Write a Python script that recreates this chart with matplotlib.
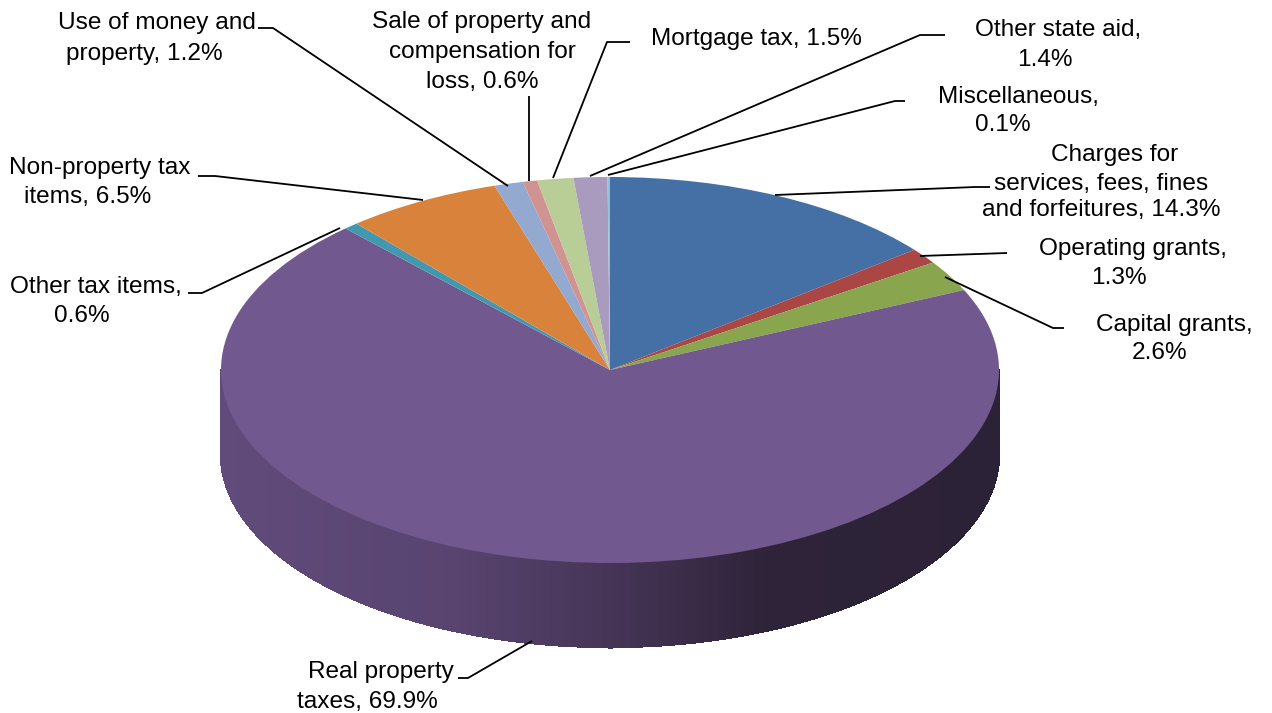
import numpy as np
import matplotlib
matplotlib.use("Agg")
import matplotlib.pyplot as plt
from matplotlib.collections import PolyCollection
from matplotlib.colors import LinearSegmentedColormap

plt.rcParams['font.family'] = ['Liberation Sans', 'DejaVu Sans']

# slices, clockwise from 12 o'clock
labels = ["Charges for\nservices, fees, fines\nand forfeitures, 14.3%",
          "Operating grants,\n1.3%",
          "Capital grants,\n2.6%",
          "Real property\ntaxes, 69.9%",
          "Other tax items,\n0.6%",
          "Non-property tax\nitems, 6.5%",
          "Use of money and\nproperty, 1.2%",
          "Sale of property and\ncompensation for\nloss, 0.6%",
          "Mortgage tax, 1.5%",
          "Other state aid,\n1.4%",
          "Miscellaneous,\n0.1%"]
values = [14.3, 1.3, 2.6, 69.9, 0.6, 6.5, 1.2, 0.6, 1.5, 1.4, 0.1]
colors = ["#4570A5", "#AA4643", "#89A54E", "#71588F", "#4198AF", "#D9823C",
          "#93A9CF", "#D19392", "#B9CD96", "#A99BBD", "#92C3D5"]

# (centre x, baseline y) in pixels for every line of every label
line_pos = [[(1115, 161), (1101, 190), (1101, 216)],
            [(1133, 255), (1119, 284)],
            [(1174, 331), (1160, 359)],
            [(381, 678), (367, 708)],
            [(96, 293), (82, 322)],
            [(100, 174), (88, 203)],
            [(157, 29), (144, 60)],
            [(482, 28), (482, 58), (482, 88)],
            [(756, 45)],
            [(1058, 36), (1045, 66)],
            [(1018, 103), (1003, 131)]]
# leader lines in pixels
leaders = [[(775, 195), (975, 187), (990, 187)],
           [(920, 256), (1007, 253)],
           [(945, 277), (1053, 328), (1064, 328)],
           [(532, 641), (468, 678), (458, 678)],
           [(340, 228), (202, 293), (188, 293)],
           [(423, 200), (215, 176), (198, 176)],
           [(508, 186), (273, 28), (258, 28)],
           [(529, 181), (529, 96)],
           [(553, 178), (607, 42), (630, 42)],
           [(590, 176), (920, 35), (945, 35)],
           [(608, 175), (895, 101), (905, 101)]]

W, H = 1272, 713
cx, cy, rx, ry = 610, 370, 389, 193
depth = 84 / ry

fig = plt.figure(figsize=(W / 100, H / 100), dpi=100)
ax = fig.add_axes([0, 0, 1, 1])
ax.pie(values, colors=colors, startangle=90, counterclock=False, radius=1,
       wedgeprops={"linewidth": 0.4, "edgecolor": "none"})
ax.set_aspect("auto")
ax.set_xlim(-cx / rx, (W - cx) / rx)
ax.set_ylim((cy - H) / ry, cy / ry)

# side wall, lighter on the left and almost black on the right
wall_cmap = LinearSegmentedColormap.from_list(
    "wall", [(0, "#604B7B"), (0.30, "#58446F"), (0.52, "#443354"), (0.70, "#2E2339"), (1, "#2C2238")])
t = np.linspace(np.pi, 2 * np.pi, 260)
quads = []
shade = []
for a, b in zip(t[:-1], t[1:]):
    quads.append([(np.cos(a), np.sin(a)), (np.cos(b), np.sin(b)),
                  (np.cos(b), np.sin(b) - depth), (np.cos(a), np.sin(a) - depth)])
    shade.append(wall_cmap((np.cos(a) + 1) / 2))
wall = PolyCollection(quads, facecolors=shade, edgecolors=shade, linewidths=1.0,
                      antialiaseds=False, zorder=0.5)
ax.add_collection(wall)
ax.plot(np.cos(t), np.sin(t) - depth, color="#A79BB3", lw=1.0, zorder=0.4)

# overlay in pixel coordinates for the labels
ov = fig.add_axes([0, 0, 1, 1])
ov.set_xlim(0, W)
ov.set_ylim(H, 0)
ov.axis("off")
for pts in leaders:
    xs, ys = zip(*pts)
    ov.plot(xs, ys, color="black", lw=1.3, solid_capstyle="butt")
# each line is placed on its own, the originals are not quite centred on each other
for lab, pos in zip(labels, line_pos):
    for line, (x, y) in zip(lab.split("\n"), pos):
        ov.text(x, y, line, ha="center", va="baseline", fontsize=17.6, color="black")

fig.savefig("out.png", dpi=100)
